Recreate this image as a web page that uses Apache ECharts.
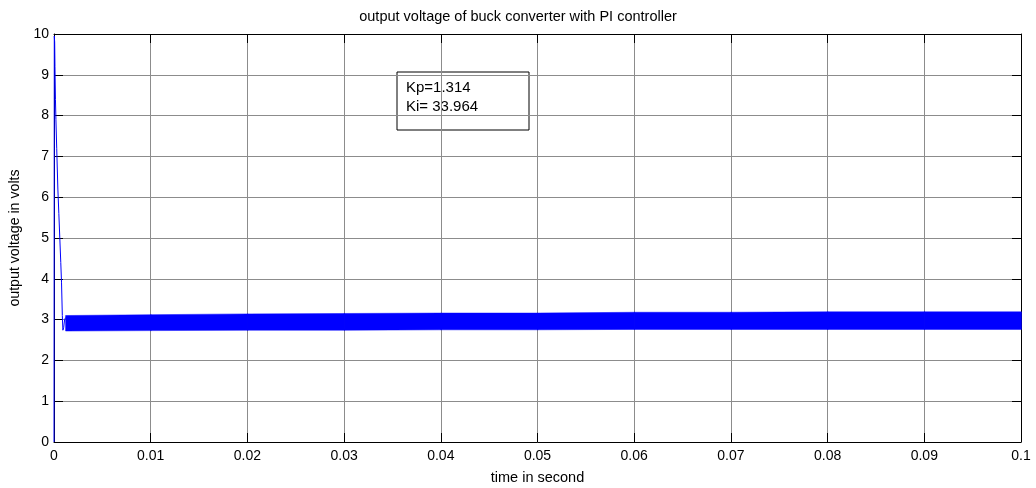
<!DOCTYPE html>
<html>
<head>
<meta charset="utf-8">
<script src="https://cdn.jsdelivr.net/npm/echarts@6/dist/echarts.min.js"></script>
<style>
  html, body { margin: 0; padding: 0; background: #fff; }
  #chart { width: 1036px; height: 488px; }
</style>
</head>
<body>
<div id="chart"></div>
<script>
  // start-up transient (time s, volts)
  var transientT = [0, 0.00003, 0.00007, 0.0001, 0.00015, 0.0002, 0.00028, 0.0004, 0.0005, 0.0006, 0.0007, 0.00078, 0.00086, 0.00092, 0.001, 0.0011, 0.0012]
  var transientV = [0, 9.95, 9.8, 9.2, 8.4, 7.9, 7.2, 6.2, 5.6, 5.0, 4.4, 3.9, 3.1, 2.74, 2.8, 3.0, 3.05]
  // ripple band envelope after start-up
  var bandT = [0.0012, 0.01, 0.02, 0.03, 0.04, 0.05, 0.06, 0.07, 0.08, 0.09, 0.1]
  var bandUpper = [3.10, 3.12, 3.14, 3.15, 3.16, 3.16, 3.18, 3.18, 3.19, 3.19, 3.19]
  var bandLower = [2.72, 2.73, 2.74, 2.74, 2.75, 2.75, 2.76, 2.76, 2.76, 2.76, 2.76]
  var xTicks = ['0', '0.01', '0.02', '0.03', '0.04', '0.05', '0.06', '0.07', '0.08', '0.09', '0.1']

  var font = 'Liberation Sans, Arial, sans-serif'
  var blue = '#0000ff'

  var chart = echarts.init(document.getElementById('chart'), null, {renderer: 'canvas'})

  var transientData = transientT.map(function (t, i) { return [t, transientV[i]] })
  // one item per envelope segment: [t0, low0, up0, t1, low1, up1]
  var bandData = []
  for (var i = 0; i < bandT.length - 1; i++) {
    bandData.push([bandT[i], bandLower[i], bandUpper[i], bandT[i + 1], bandLower[i + 1], bandUpper[i + 1]])
  }

  function renderBand(params, api) {
    var a = api.coord([api.value(0), api.value(1)])
    var b = api.coord([api.value(0), api.value(2)])
    var c = api.coord([api.value(3), api.value(5)])
    var d = api.coord([api.value(3), api.value(4)])
    return {
      type: 'polygon',
      shape: {points: [a, b, [c[0] + 0.5, c[1]], [d[0] + 0.5, d[1]]]},
      style: {fill: blue, stroke: blue, lineWidth: 0.5}
    }
  }

  function frameAxis(pos) {
    return {
      type: 'value', position: pos, min: 0, max: pos === 'top' ? 0.1 : 10,
      interval: pos === 'top' ? 0.01 : 1,
      axisLine: {show: true, onZero: false, lineStyle: {color: '#000', width: 1}},
      axisTick: {show: true, inside: true, length: 9, lineStyle: {color: '#000'}},
      axisLabel: {show: false},
      splitLine: {show: false}
    }
  }

  chart.setOption({
    animation: false,
    title: {
      text: 'output voltage of buck converter with PI controller',
      left: 'center',
      top: 4,
      textStyle: {fontFamily: font, fontSize: 14.5, fontWeight: 'normal', color: '#000'}
    },
    grid: {left: 54, right: 15, top: 34, bottom: 46, outerBoundsMode: 'none'},
    xAxis: [{
      type: 'value', min: 0, max: 0.1, interval: 0.01,
      name: 'time in second', nameLocation: 'middle', nameGap: 28,
      nameTextStyle: {fontFamily: font, fontSize: 14.5, color: '#000'},
      axisLine: {onZero: false, lineStyle: {color: '#000', width: 1}},
      axisTick: {inside: true, length: 9, lineStyle: {color: '#000'}},
      axisLabel: {
        fontFamily: font, fontSize: 14, color: '#000', margin: 7,
        formatter: function (v, i) { return xTicks[i] }
      },
      splitLine: {show: true, lineStyle: {color: '#8c8c8c', width: 1}}
    }, frameAxis('top')],
    yAxis: [{
      type: 'value', min: 0, max: 10, interval: 1,
      name: 'output voltage in volts', nameLocation: 'middle', nameGap: 26, nameRotate: 90,
      nameTextStyle: {fontFamily: font, fontSize: 14.2, color: '#000'},
      axisLine: {show: true, lineStyle: {color: '#000', width: 1}},
      axisTick: {show: true, inside: true, length: 9, lineStyle: {color: '#000'}},
      axisLabel: {fontFamily: font, fontSize: 14, color: '#000', margin: 5},
      splitLine: {show: true, lineStyle: {color: '#8c8c8c', width: 1}}
    }, frameAxis('right')],
    graphic: [{
      type: 'rect',
      shape: {x: 397, y: 72, width: 132, height: 58},
      style: {fill: 'none', stroke: '#000', lineWidth: 1}
    }, {
      type: 'text', left: 406, top: 80,
      style: {text: 'Kp=1.314', font: '15px ' + font, fill: '#000'}
    }, {
      type: 'text', left: 406, top: 99,
      style: {text: 'Ki= 33.964', font: '15px ' + font, fill: '#000'}
    }],
    series: [{
      name: 'transient', type: 'line', showSymbol: false, symbol: 'none',
      data: transientData,
      lineStyle: {color: blue, width: 1}
    }, {
      name: 'ripple band', type: 'custom',
      renderItem: renderBand,
      encode: {x: [0, 3], y: [1, 2, 4, 5]},
      data: bandData
    }]
  })
</script>
</body>
</html>
